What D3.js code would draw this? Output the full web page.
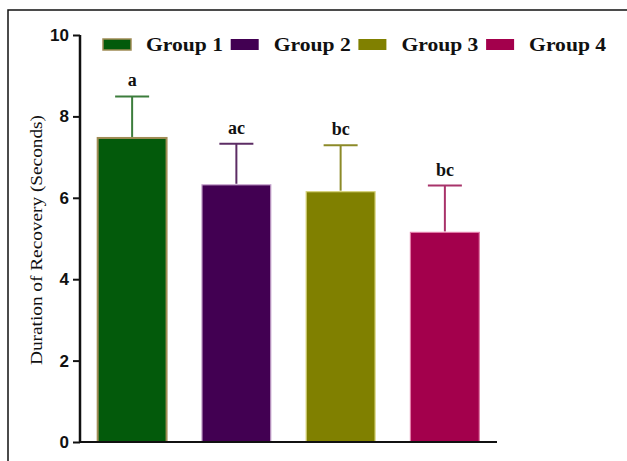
<!DOCTYPE html>
<html>
<head>
<meta charset="utf-8">
<script src="https://cdn.jsdelivr.net/npm/d3@7"></script>
<style>
  body { margin: 0; background: #fff; }
  svg { display: block; }
</style>
</head>
<body>
<script>
// chart values
const groups = ["Group 1", "Group 2", "Group 3", "Group 4"];
const means = [7.47, 6.32, 6.15, 5.15];
const errors = [1.02, 1.01, 1.14, 1.15];
const letters = ["a", "ac", "bc", "bc"];
const yTicks = [0, 2, 4, 6, 8, 10];

const fills = ["#035a0b", "#420052", "#808000", "#a3004c"];
const outlines = ["#a08c55", "#c9a8d0", "#d6d27a", "#e07aa6"];
const errColors = ["#3c7d3c", "#5c2c64", "#8c8a28", "#a8336a"];

const width = 627, height = 461;
const svg = d3.select("body").append("svg")
    .attr("width", width)
    .attr("height", height);

// outer frame (top + left only)
svg.append("path")
    .attr("d", `M8,${height} L8,10 L${width},10`)
    .attr("fill", "none")
    .attr("stroke", "#111")
    .attr("stroke-width", 1.5);

const x = d3.scaleBand()
    .domain(groups)
    .range([80, 497])
    .paddingInner(0.32)
    .paddingOuter(0.16);

const y = d3.scaleLinear()
    .domain([0, 10])
    .range([442, 35]);

// bars
svg.append("g")
  .selectAll("rect")
  .data(groups)
  .join("rect")
    .attr("x", d => x(d) + 1)
    .attr("y", (d, i) => y(means[i]))
    .attr("width", x.bandwidth() - 2)
    .attr("height", (d, i) => y(0) - y(means[i]))
    .attr("fill", (d, i) => fills[i])
    .attr("stroke", (d, i) => outlines[i])
    .attr("stroke-width", (d, i) => i === 0 ? 2 : 1.2);

// error bars (upper only)
const eb = svg.append("g")
  .selectAll("g")
  .data(groups)
  .join("g")
    .attr("stroke", (d, i) => errColors[i])
    .attr("stroke-width", 2);

eb.append("line")
    .attr("x1", d => x(d) + x.bandwidth() / 2)
    .attr("x2", d => x(d) + x.bandwidth() / 2)
    .attr("y1", (d, i) => y(means[i]) - 1)
    .attr("y2", (d, i) => y(means[i] + errors[i]));

eb.append("line")
    .attr("x1", d => x(d) + x.bandwidth() / 2 - 17)
    .attr("x2", d => x(d) + x.bandwidth() / 2 + 17)
    .attr("y1", (d, i) => y(means[i] + errors[i]))
    .attr("y2", (d, i) => y(means[i] + errors[i]));

// significance letters
svg.append("g")
  .selectAll("text")
  .data(groups)
  .join("text")
    .attr("x", d => x(d) + x.bandwidth() / 2)
    .attr("y", (d, i) => y(means[i] + errors[i]) - 10)
    .attr("text-anchor", "middle")
    .style("font-family", "'Liberation Serif', 'Times New Roman', serif")
    .style("font-weight", "bold")
    .style("font-size", "18px")
    .attr("fill", "#111")
    .text((d, i) => letters[i]);

// y axis
const yAxis = svg.append("g")
    .attr("transform", "translate(80,0)")
    .call(d3.axisLeft(y).tickValues(yTicks).tickSize(7).tickPadding(4).tickFormat(d3.format("d")));
yAxis.select(".domain")
    .attr("stroke", "#111")
    .attr("stroke-width", 2.5)
    .attr("d", `M0,${y(10)}V${y(0) + 1}`);
yAxis.selectAll(".tick line")
    .attr("stroke", "#111")
    .attr("stroke-width", 2);
yAxis.selectAll(".tick text")
    .style("font-family", "'Liberation Sans', Arial, sans-serif")
    .style("font-weight", "bold")
    .style("font-size", "17px")
    .attr("fill", "#111");

// x axis baseline
svg.append("line")
    .attr("x1", 80)
    .attr("x2", 497)
    .attr("y1", y(0))
    .attr("y2", y(0))
    .attr("stroke", "#111")
    .attr("stroke-width", 2);

// y axis title
svg.append("text")
    .attr("transform", "translate(42,240) rotate(-90)")
    .attr("text-anchor", "middle")
    .style("font-family", "'Liberation Serif', 'Times New Roman', serif")
    .style("font-size", "17px")
    .attr("fill", "#111")
    .attr("textLength", 250)
    .attr("lengthAdjust", "spacingAndGlyphs")
    .text("Duration of Recovery (Seconds)");

// legend
const legend = svg.append("g")
  .selectAll("g")
  .data(groups)
  .join("g")
    .attr("transform", (d, i) => `translate(${103 + i * 127.7},39)`);

legend.append("rect")
    .attr("width", 28)
    .attr("height", 11)
    .attr("fill", (d, i) => fills[i])
    .attr("stroke", (d, i) => i === 0 ? outlines[0] : "none")
    .attr("stroke-width", 1.5);

legend.append("text")
    .attr("x", 43)
    .attr("y", 12)
    .style("font-family", "'Liberation Serif', 'Times New Roman', serif")
    .style("font-weight", "bold")
    .style("font-size", "19px")
    .attr("fill", "#111")
    .attr("textLength", 77)
    .attr("lengthAdjust", "spacingAndGlyphs")
    .text(d => d);
</script>
</body>
</html>
